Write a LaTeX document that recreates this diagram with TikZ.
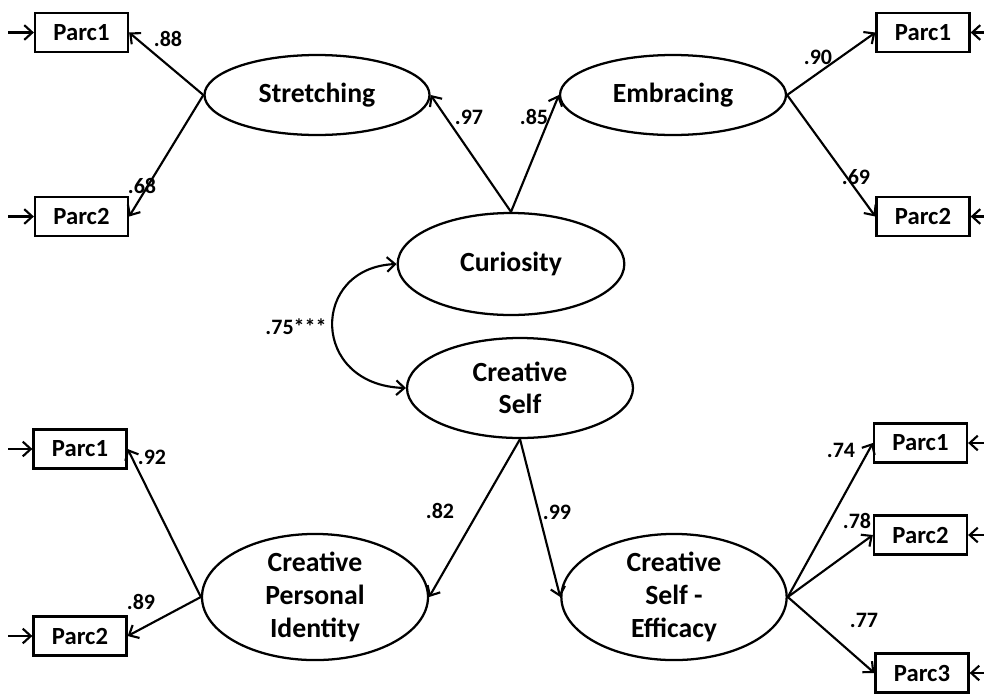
\documentclass[tikz,border=0pt]{standalone}
\usepackage{fontspec}
\setmainfont{Carlito}
\usetikzlibrary{shapes.geometric,arrows.meta}
\begin{document}
\begin{tikzpicture}[x=0.75pt,y=-0.75pt,
  lat/.style={draw,ellipse,line width=1.7pt,inner sep=0pt,align=center,
    font=\bfseries\fontsize{20.8}{24.5}\selectfont},
  obs/.style={draw,rectangle,line width=1.7pt,minimum width=69.75pt,minimum height=29.25pt,
    inner sep=0pt,font=\bfseries\fontsize{18.5}{21}\selectfont},
  lbl/.style={inner sep=0pt,font=\bfseries\fontsize{16.5}{19}\selectfont},
  tip/.style={Straight Barb[length=6pt,width=11pt,line width=1.6pt]},
  arr/.style={line width=1.6pt,-{Straight Barb[length=6pt,width=11pt,line width=1.6pt]}},
  darr/.style={line width=1.6pt,{Straight Barb[length=6pt,width=11pt,line width=1.6pt]}-{Straight Barb[length=6pt,width=11pt,line width=1.6pt]}}
]
\useasboundingbox (0,0) rectangle (984,693);
% latent variables
\node[lat,minimum width=168.75pt,minimum height=60pt] (str) at (317,95) {Stretching};
\node[lat,minimum width=169.5pt,minimum height=60pt] (emb) at (673,95) {Embracing};
\node[lat,minimum width=170pt,minimum height=76.5pt] (cur) at (511,264) {Curiosity};
\node[lat,minimum width=169.5pt,minimum height=75pt] (cs) at (520,388) {Creative\\Self};
\node[lat,minimum width=169.5pt,minimum height=89pt] (cpi) at (315,597) {Creative\\Personal\\Identity};
\node[lat,minimum width=169pt,minimum height=88pt] (cse) at (674,597) {Creative\\Self -\\Efficacy};
% observed
\node[obs] (s1) at (81.5,32.5) {Parc1};
\node[obs] (s2) at (81.5,216.5) {Parc2};
\node[obs] (e1) at (923,32.5) {Parc1};
\node[obs] (e2) at (923,216.5) {Parc2};
\node[obs] (p1) at (80,449) {Parc1};
\node[obs] (p2) at (80,636) {Parc2};
\node[obs] (f1) at (920.5,443) {Parc1};
\node[obs] (f2) at (920.5,535) {Parc2};
\node[obs] (f3) at (922,673) {Parc3};
% error coordinates
\coordinate (es1) at (8,32.5);
\coordinate (es2) at (8,216.5);
\coordinate (ee1) at (984,32.5);
\coordinate (ee2) at (984,216.5);
\coordinate (ep1) at (8,449);
\coordinate (ep2) at (8,636);
\coordinate (ef1) at (984,443);
\coordinate (ef2) at (984,535);
\coordinate (ef3) at (984,673);
\foreach \a/\b in {es1/s1,es2/s2,ep1/p1,ep2/p2}
  \draw[arr] (\a) -- (\b.west);
\foreach \a/\b in {ee1/e1,ee2/e2,ef1/f1,ef2/f2,ef3/f3}
  \draw[arr] (\a) -- (\b.east);
% loadings
\draw[arr] (str.west) -- (s1.east);
\draw[arr] (str.west) -- (s2.east);
\draw[arr] (emb.east) -- (e1.west);
\draw[arr] (emb.east) -- (e2.west);
\draw[arr] (cur.north) -- (str.east);
\draw[arr] (cur.north) -- (emb.west);
\draw[arr] (cs.south) -- (cpi.east);
\draw[arr] (cs.south) -- (cse.west);
\draw[arr] (cpi.west) -- (p1.east);
\draw[arr] (cpi.west) -- (p2.east);
\draw[arr] (cse.east) -- (f1.west);
\draw[arr] (cse.east) -- (f2.west);
\draw[arr] (cse.east) -- (f3.west);
% covariance
\draw[darr] (cur.west) .. controls (310,268) and (310,385) .. (cs.west);
% labels
\node[lbl] (l1) at (168,39) {.88};
\node[lbl] (l2) at (142,186) {.68};
\node[lbl] (l3) at (818,57) {.90};
\node[lbl] (l4) at (856,177) {.69};
\node[lbl] (l5) at (469,117) {.97};
\node[lbl] (l6) at (534,117) {.85};
\node[lbl] (l7) at (296,327) {.75***};
\node[lbl] (l8) at (152,457) {.92};
\node[lbl] (l9) at (141,602) {.89};
\node[lbl] (l10) at (440,511) {.82};
\node[lbl] (l11) at (557,512) {.99};
\node[lbl] (l12) at (841,450) {.74};
\node[lbl] (l13) at (857,521) {.78};
\node[lbl] (l14) at (864,620) {.77};
\end{tikzpicture}
\end{document}
